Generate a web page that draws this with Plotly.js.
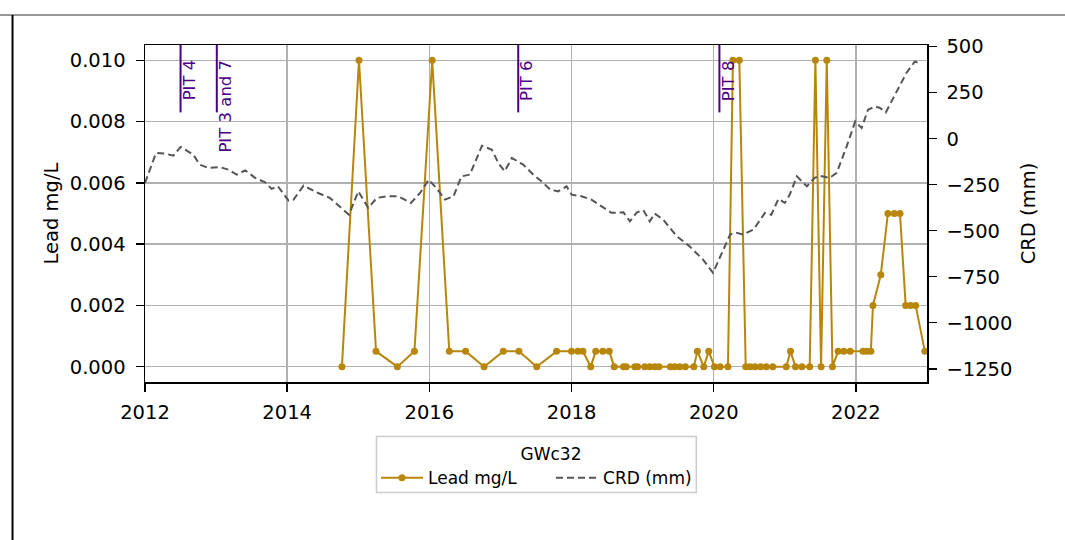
<!DOCTYPE html>
<html>
<head>
<meta charset="utf-8">
<script src="https://cdn.plot.ly/plotly-3.0.1.min.js"></script>
<style>html,body{margin:0;padding:0;background:#fff;}#chart{width:1065px;height:540px;}</style>
</head>
<body>
<div id="chart"></div>
<script>
// ---- data ----
const leadYears = [2014.77, 2015.01, 2015.25, 2015.55, 2015.79, 2016.04, 2016.28, 2016.51, 2016.77, 2017.04, 2017.26, 2017.51, 2017.79,
  2018.00, 2018.09, 2018.16, 2018.27, 2018.34, 2018.44, 2018.53, 2018.60, 2018.73, 2018.77, 2018.89, 2018.93,
  2019.03, 2019.10, 2019.17, 2019.23, 2019.39, 2019.45, 2019.52, 2019.60, 2019.72, 2019.77, 2019.86, 2019.93,
  2020.01, 2020.09, 2020.20, 2020.27, 2020.36, 2020.45, 2020.51, 2020.58, 2020.66, 2020.74, 2020.83,
  2021.02, 2021.08, 2021.15, 2021.24, 2021.35, 2021.43, 2021.51, 2021.59, 2021.67, 2021.75, 2021.83, 2021.92,
  2022.10, 2022.15, 2022.21, 2022.24, 2022.35, 2022.45, 2022.54, 2022.62, 2022.70, 2022.77, 2022.84, 2022.97];
const leadMgL = [0, 0.01, 0.0005, 0, 0.0005, 0.01, 0.0005, 0.0005, 0, 0.0005, 0.0005, 0, 0.0005,
  0.0005, 0.0005, 0.0005, 0, 0.0005, 0.0005, 0.0005, 0, 0, 0, 0, 0,
  0, 0, 0, 0, 0, 0, 0, 0, 0, 0.0005, 0, 0.0005,
  0, 0, 0, 0.01, 0.01, 0, 0, 0, 0, 0, 0,
  0, 0.0005, 0, 0, 0, 0.01, 0, 0.01, 0, 0.0005, 0.0005, 0.0005,
  0.0005, 0.0005, 0.0005, 0.002, 0.003, 0.005, 0.005, 0.005, 0.002, 0.002, 0.002, 0.0005];

const crdYears = [2012.00, 2012.155, 2012.28, 2012.40, 2012.50, 2012.68, 2012.77, 2012.89, 2013.05, 2013.17,
  2013.29, 2013.41, 2013.55, 2013.69, 2013.78, 2013.87, 2014.02, 2014.09, 2014.23, 2014.41,
  2014.60, 2014.74, 2014.87, 2015.00, 2015.14, 2015.26, 2015.40, 2015.56, 2015.61, 2015.74,
  2015.87, 2015.99, 2016.10, 2016.22, 2016.34, 2016.45, 2016.57, 2016.74, 2016.88, 2016.97,
  2017.06, 2017.16, 2017.32, 2017.46, 2017.58, 2017.70, 2017.81, 2017.93, 2018.00, 2018.14,
  2018.28, 2018.42, 2018.56, 2018.73, 2018.82, 2018.92, 2019.01, 2019.10, 2019.17, 2019.29,
  2019.48, 2019.66, 2019.85, 2019.99, 2020.11, 2020.23, 2020.30, 2020.41, 2020.56, 2020.72,
  2020.81, 2020.91, 2021.00, 2021.07, 2021.17, 2021.31, 2021.42, 2021.49, 2021.63, 2021.73,
  2021.87, 2021.99, 2022.08, 2022.17, 2022.27, 2022.34, 2022.42, 2022.57, 2022.71, 2022.83, 2022.88];
const crdMm = [-240, -78, -81, -92, -45, -87, -141, -159, -154, -168,
  -195, -172, -213, -237, -273, -259, -337, -331, -255, -291,
  -322, -367, -413, -286, -376, -322, -313, -313, -322, -349,
  -295, -223, -268, -331, -313, -205, -195, -38, -60, -132,
  -177, -105, -141, -195, -232, -277, -286, -259, -304, -313,
  -331, -367, -403, -400, -449, -400, -389, -449, -407, -440,
  -530, -585, -657, -729, -620, -521, -509, -521, -494, -403,
  -413, -327, -349, -304, -205, -259, -213, -201, -213, -186,
  -42, 94, 58, 157, 175, 167, 143, 257, 357, 420, 411];

const pitLabels = ['PIT 4', 'PIT 3 and 7', 'PIT 6', 'PIT 8'];
const pitYears = [2012.50, 2013.01, 2017.25, 2020.08];

const xTickVals = [2012, 2014, 2016, 2018, 2020, 2022];
const xTickText = ['2012', '2014', '2016', '2018', '2020', '2022'];
const yTickVals = [0, 0.002, 0.004, 0.006, 0.008, 0.010];
const y2TickVals = [-1250, -1000, -750, -500, -250, 0, 250, 500];

// ---- styles ----
const FONT = 'DejaVu Sans, sans-serif';
const leadColor = '#B8860B';
const crdColor = '#555555';
const pitColor = '#4B0082';

const traces = [
  {
    x: leadYears, y: leadMgL, name: 'Lead mg/L', type: 'scatter', mode: 'lines+markers',
    line: {color: leadColor, width: 2}, marker: {color: leadColor, size: 7}, yaxis: 'y'
  },
  {
    x: crdYears, y: crdMm, name: 'CRD (mm)', type: 'scatter', mode: 'lines',
    line: {color: crdColor, width: 2, dash: '7px,4px'}, yaxis: 'y2'
  }
];

const shapes = pitYears.map(v => ({
  type: 'line', xref: 'x', yref: 'paper', x0: v, x1: v, y0: 0.8, y1: 1,
  line: {color: pitColor, width: 2}
}));
// figure frame lines (decoration of the reference image)
shapes.push({type: 'line', xref: 'paper', yref: 'paper', x0: -0.2, x1: 1.2, y0: 1.089, y1: 1.089,
  line: {color: '#333333', width: 1}});
shapes.push({type: 'line', xref: 'paper', yref: 'paper', x0: -0.1694, x1: -0.1694, y0: 1.089, y1: -0.5,
  line: {color: '#000000', width: 2}});
// legend frame
shapes.push({type: 'rect', xref: 'paper', yref: 'paper', x0: 0.296, x1: 0.705, y0: -0.162, y1: -0.328,
  line: {color: '#cccccc', width: 1.5}, fillcolor: 'rgba(0,0,0,0)', layer: 'above'});

const annotations = pitYears.map((v, i) => ({
  x: v, y: 0.962, xref: 'x', yref: 'paper', text: pitLabels[i], showarrow: false,
  textangle: -90, xanchor: 'left', yanchor: 'top', xshift: -3,
  font: {family: FONT, size: 16.5, color: pitColor}
}));

const layout = {
  width: 1065, height: 540,
  margin: {l: 145, r: 138, t: 45, b: 158, pad: 0},
  paper_bgcolor: '#ffffff', plot_bgcolor: '#ffffff',
  font: {family: FONT, color: '#000000'},
  showlegend: true,
  xaxis: {
    range: [2012, 2023], tickvals: xTickVals, ticktext: xTickText,
    showgrid: true, gridcolor: '#b0b0b0', gridwidth: 1.5,
    showline: true, linecolor: '#000000', linewidth: 1.5, mirror: true,
    ticks: 'outside', ticklen: 8, tickwidth: 1.5, tickcolor: '#000000',
    ticklabelstandoff: 4,
    tickfont: {family: FONT, size: 19.5, color: '#000000'}, zeroline: false
  },
  yaxis: {
    range: [-0.0005, 0.0105], tickvals: yTickVals, tickformat: '.3f',
    showgrid: true, gridcolor: '#b0b0b0', gridwidth: 1.5,
    showline: true, linecolor: '#000000', linewidth: 1.5, mirror: true,
    ticks: 'outside', ticklen: 8, tickwidth: 1.5, tickcolor: '#000000',
    ticklabelstandoff: 6,
    tickfont: {family: FONT, size: 19.5, color: '#000000'}, zeroline: false,
    title: {text: 'Lead mg/L', font: {family: FONT, size: 19.5, color: '#000000'}, standoff: 6}
  },
  yaxis2: {
    range: [-1322, 509], tickvals: y2TickVals, overlaying: 'y', side: 'right',
    showgrid: false, showline: true, linecolor: '#000000', linewidth: 1.5,
    ticks: 'outside', ticklen: 8, tickwidth: 1.5, tickcolor: '#000000',
    ticklabelstandoff: 6,
    tickfont: {family: FONT, size: 19.5, color: '#000000'}, zeroline: false,
    title: {text: 'CRD (mm)', font: {family: FONT, size: 19.5, color: '#000000'}, standoff: 10}
  },
  legend: {
    orientation: 'h', x: 0.2935, xanchor: 'left', y: -0.162, yanchor: 'top',
    bordercolor: 'rgba(0,0,0,0)', borderwidth: 1.5, bgcolor: 'rgba(0,0,0,0)',
    entrywidth: 118, entrywidthmode: 'pixels', itemwidth: 42,
    font: {family: FONT, size: 17, color: '#000000'},
    title: {text: 'GWc32', side: 'top center', font: {family: FONT, size: 17, color: '#000000'}}
  },
  shapes: shapes,
  annotations: annotations
};

Plotly.newPlot('chart', traces, layout, {displayModeBar: false, staticPlot: true});
</script>
</body>
</html>
